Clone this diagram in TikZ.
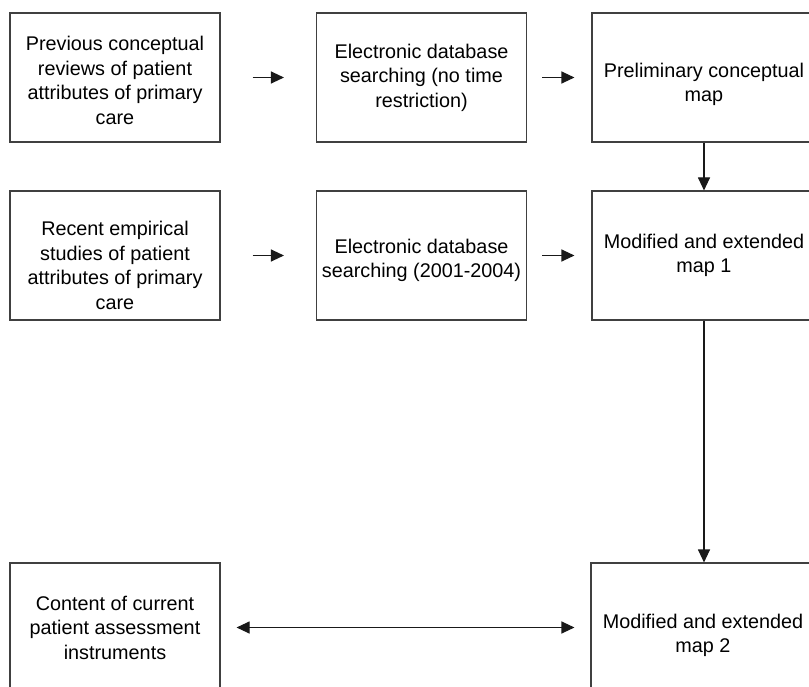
\documentclass[tikz,border=0pt]{standalone}
\usepackage{fontspec}
\setmainfont{Liberation Sans}
\usetikzlibrary{arrows.meta}
\begin{document}
\begin{tikzpicture}[x=1pt,y=-1pt,
  box/.style={draw=black!75,line width=1.1pt,rectangle,inner sep=0pt,
    minimum height=129pt},
  narrow/.style={box,minimum width=210pt},
  wide/.style={box,minimum width=224pt},
  txt/.style={inner sep=0pt,align=center,font=\fontsize{19.8}{24.5}\selectfont},
  arr/.style={draw=black!90,line width=1.1pt,-{Triangle[length=13pt,width=12pt]}},
  darr/.style={draw=black!90,line width=1.1pt,{Triangle[length=13pt,width=12pt]}-{Triangle[length=13pt,width=12pt]}}]
\clip (0,0) rectangle (809,687);
\useasboundingbox (0,0) rectangle (809,687);
\fill[white] (0,0) rectangle (809,687);
% row 1
\node[narrow] (a1) at (115,77.5) {};
\node[wide] (c1) at (704,77.5) {};
\node[narrow] (b1) at (421.5,77.5) {};
\node[txt] (ta1) at ([yshift=-3pt]a1.center) {Previous conceptual\\reviews of patient\\attributes of primary\\care};
\node[txt] (tb1) at (b1.center) {Electronic database\\searching (no time\\restriction)};
\node[txt] (tc1) at ([yshift=-7pt]c1.center) {Preliminary conceptual\\map};
% row 2
\node[narrow] (a2) at (115,255.5) {};
\node[narrow] (b2) at (421.5,255.5) {};
\node[wide] (c2) at (704,255.5) {};
\node[txt] (ta2) at ([yshift=-10pt]a2.center) {Recent empirical\\studies of patient\\attributes of primary\\care};
\node[txt] (tb2) at ([yshift=-5pt]b2.center) {Electronic database\\searching (2001-2004)};
\node[txt] (tc2) at (c2.center) {Modified and extended\\map 1};
% row 3
\node[narrow] (a3) at (115,627.5) {};
\node[wide] (c3) at (703,627.5) {};
\node[txt] (ta3) at (a3.center) {Content of current\\patient assessment\\instruments};
\node[txt] (tc3) at ([yshift=-8pt]c3.center) {Modified and extended\\map 2};
% connectors
\draw[arr,shorten <=32pt,shorten >=32pt] (a1) -- (b1);
\draw[arr,shorten <=15pt,shorten >=17pt] (b1) -- (c1);
\draw[arr,shorten <=32pt,shorten >=32pt] (a2) -- (b2);
\draw[arr,shorten <=15pt,shorten >=17pt] (b2) -- (c2);
\draw[arr] (c1) -- (c2);
\draw[arr] (c2.south) -- (c2.south |- c3.north);
\draw[darr,shorten <=16pt,shorten >=16pt] (a3) -- (c3);
\end{tikzpicture}
\end{document}
